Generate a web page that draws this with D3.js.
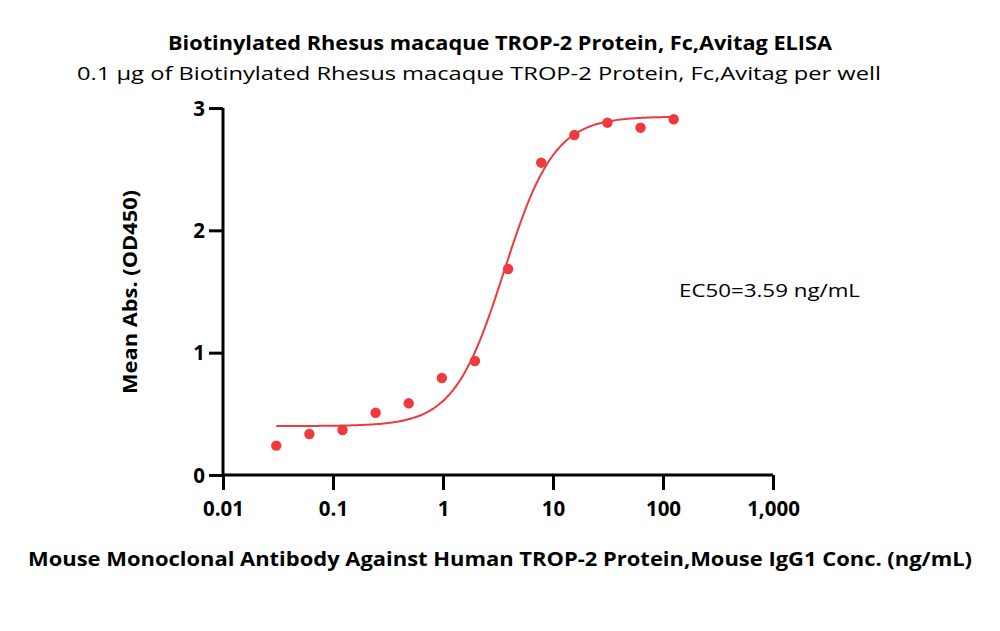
<!DOCTYPE html>
<html><head><meta charset="utf-8">
<script src="https://cdn.jsdelivr.net/npm/d3@7"></script>
<style>body{margin:0;background:#fff}svg{display:block}</style>
</head><body><svg id="c" width="1000" height="631"></svg>
<script>
const concentrations = [0.0305, 0.061, 0.122, 0.244, 0.488, 0.977, 1.95, 3.91, 7.81, 15.63, 31.25, 62.5, 125];
const absorbance = [0.240, 0.335, 0.368, 0.509, 0.586, 0.793, 0.932, 1.684, 2.553, 2.779, 2.880, 2.839, 2.908];
const xTicks = [0.01, 0.1, 1, 10, 100, 1000];
const yTicks = [0, 1, 2, 3];
const fitBottom = 0.40, fitTop = 2.93, fitEC50 = 3.59, fitHill = 1.9;
const titleText = "Biotinylated Rhesus macaque TROP-2 Protein, Fc,Avitag ELISA";
const subtitleText = "0.1 µg of Biotinylated Rhesus macaque TROP-2 Protein, Fc,Avitag per well";
const yTitle = "Mean Abs. (OD450)";
const xTitle = "Mouse Monoclonal Antibody Against Human TROP-2 Protein,Mouse IgG1 Conc. (ng/mL)";
const ec50Label = "EC50=3.59 ng/mL";

const svg = d3.select("#c");
const red = "#ee3a3e";
const x = d3.scaleLog().domain([0.01, 1000]).range([223, 773]);
const y = d3.scaleLinear().domain([0, 3]).range([475, 108]);

const fmt = d => d >= 1000 ? d3.format(",")(d) : String(d);
const xAxis = svg.append("g").attr("transform", "translate(0,475)")
  .call(d3.axisBottom(x).tickValues(xTicks).tickFormat(fmt).tickSize(15).tickPadding(11));
const yAxis = svg.append("g").attr("transform", "translate(223,0)")
  .call(d3.axisLeft(y).tickValues(yTicks).tickFormat(d3.format("d")).tickSize(14).tickPadding(4));
[xAxis, yAxis].forEach(a => {
  a.select(".domain").attr("stroke", "#000").attr("stroke-width", 3);
  a.selectAll(".tick line").attr("stroke", "#000").attr("stroke-width", 3);
  a.selectAll(".tick text").attr("fill", "#000").style("font-family", "'Open Sans', sans-serif")
    .style("font-weight", "bold").style("font-size", "20.5px");
});
xAxis.select(".domain").attr("d", "M223,0H773");
yAxis.select(".domain").attr("d", "M0,108V475");
yAxis.selectAll(".tick text").attr("dy", "0.35em");

// fitted curve
const fit = c => fitBottom + (fitTop - fitBottom) / (1 + Math.pow(fitEC50 / c, fitHill));
const lo = Math.log10(d3.min(concentrations)), hi = Math.log10(d3.max(concentrations));
const curve = d3.range(0, 201).map(i => Math.pow(10, lo + (hi - lo) * i / 200));
svg.append("path").datum(curve)
  .attr("d", d3.line().x(c => x(c)).y(c => y(fit(c))).curve(d3.curveMonotoneX))
  .attr("fill", "none").attr("stroke", red).attr("stroke-width", 2);

svg.append("g").selectAll("circle").data(concentrations).join("circle")
  .attr("cx", d => x(d)).attr("cy", (d, i) => y(absorbance[i])).attr("r", 5.2).attr("fill", red);

const txt = (s, xx, yy, size, weight, len, anchor) => svg.append("text")
  .attr("x", xx).attr("y", yy).attr("text-anchor", anchor || "middle")
  .style("font-family", "'Open Sans', sans-serif").style("font-size", size + "px")
  .style("font-weight", weight).attr("fill", "#000")
  .attr("textLength", len).attr("lengthAdjust", "spacingAndGlyphs").text(s);

txt(titleText, 500, 50, 19, "bold", 664);
txt(subtitleText, 479, 80, 19, "normal", 804);
txt(xTitle, 500, 566, 20, "bold", 944);
txt(ec50Label, 679, 297, 18, "normal", 181, "start");
svg.append("text").attr("transform", "translate(137,292) rotate(-90)")
  .attr("text-anchor", "middle").style("font-family", "'Open Sans', sans-serif")
  .style("font-size", "20px").style("font-weight", "bold")
  .attr("textLength", 204).attr("lengthAdjust", "spacingAndGlyphs").text(yTitle);
</script></body></html>
